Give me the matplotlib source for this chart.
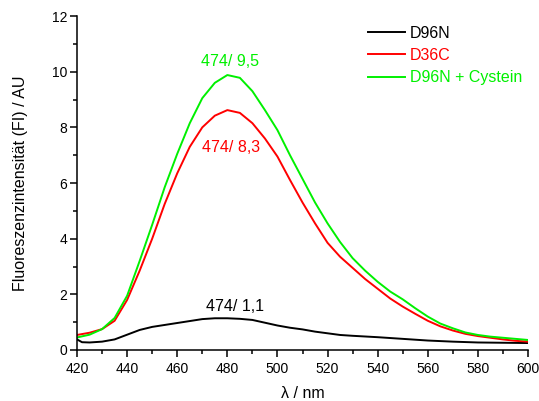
import matplotlib
matplotlib.use("Agg")
import matplotlib.pyplot as plt
from matplotlib.ticker import MultipleLocator

plt.rcParams['font.family'] = ['Liberation Sans', 'DejaVu Sans']

wl_black = [420, 422, 425, 430, 435, 440, 445, 450, 455, 460, 465, 470, 475, 480, 485, 490,
            495, 500, 505, 510, 515, 520, 525, 530, 540, 550, 560, 570, 580, 590, 600]
d96n = [0.38, 0.28, 0.27, 0.30, 0.38, 0.55, 0.72, 0.83, 0.90, 0.97, 1.04, 1.11, 1.14, 1.14, 1.12, 1.08,
        0.98, 0.88, 0.80, 0.74, 0.66, 0.60, 0.54, 0.51, 0.46, 0.40, 0.34, 0.30, 0.27, 0.26, 0.25]

wl = list(range(420, 601, 5))
d36c = [0.54, 0.62, 0.75, 1.05, 1.80, 2.85, 4.00, 5.25, 6.35, 7.30, 8.00, 8.42, 8.62, 8.52, 8.15, 7.60,
        6.95, 6.11, 5.30, 4.55, 3.85, 3.35, 2.95, 2.55, 2.20, 1.85, 1.56, 1.30, 1.05, 0.85, 0.70, 0.58,
        0.50, 0.44, 0.38, 0.33, 0.30]
cystein = [0.45, 0.55, 0.75, 1.15, 1.95, 3.20, 4.50, 5.85, 7.05, 8.15, 9.05, 9.60, 9.88, 9.78, 9.30, 8.62,
           7.90, 7.00, 6.15, 5.30, 4.55, 3.88, 3.30, 2.85, 2.45, 2.10, 1.82, 1.50, 1.20, 0.95, 0.78, 0.63,
           0.54, 0.48, 0.44, 0.40, 0.36]

labels = ['D96N', 'D36C', 'D96N + Cystein']
colors = ['#000000', '#FF0000', '#00F000']
annotations = ['474/ 1,1', '474/ 8,3', '474/ 9,5']
annot_pos = [(483, 1.55), (481.5, 7.26), (481, 10.35)]

fig = plt.figure(figsize=(5.39, 4.01), dpi=100)
ax = fig.add_axes([0.1429, 0.1272, 0.8367, 0.8328])

ax.plot(wl_black, d96n, color=colors[0], lw=1.4, label=labels[0])
ax.plot(wl, d36c, color=colors[1], lw=1.4, label=labels[1])
ax.plot(wl, cystein, color=colors[2], lw=1.4, label=labels[2])

for txt, (x, y), c in zip(annotations, annot_pos, colors):
    ax.text(x, y, txt, color=c, fontsize=11.5, ha='center', va='center')

ax.set_xlim(420, 600)
ax.set_ylim(0, 12)
ax.xaxis.set_major_locator(MultipleLocator(20))
ax.xaxis.set_minor_locator(MultipleLocator(10))
ax.yaxis.set_major_locator(MultipleLocator(2))
ax.yaxis.set_minor_locator(MultipleLocator(1))
ax.spines['top'].set_visible(False)
ax.spines['right'].set_visible(False)
for s in ('left', 'bottom'):
    ax.spines[s].set_linewidth(1.1)
ax.tick_params(which='major', direction='out', length=5, width=1.1, labelsize=10)
ax.tick_params(which='minor', direction='out', length=3, width=1.1)
ax.tick_params(axis='x', which='major', pad=4)
ax.tick_params(axis='y', which='major', pad=2)
ax.set_xlabel('λ / nm', fontsize=11.5, labelpad=6.5)
ax.set_ylabel('Fluoreszenzintensität (FI) / AU', fontsize=11.5, labelpad=17)

leg = ax.legend(loc='upper left', bbox_to_anchor=(0.645, 0.97), frameon=False, fontsize=11.5,
                borderpad=0, borderaxespad=0,
                handlelength=2.3, handletextpad=0.35, labelspacing=0.44)
for t, c in zip(leg.get_texts(), colors):
    t.set_color(c)

fig.savefig('out.png', dpi=100)
